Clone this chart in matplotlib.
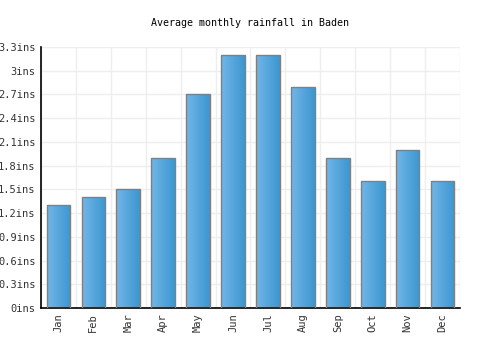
import matplotlib
matplotlib.use("Agg")
import matplotlib.pyplot as plt
import numpy as np
from matplotlib.colors import LinearSegmentedColormap

months = ["Jan", "Feb", "Mar", "Apr", "May", "Jun", "Jul", "Aug", "Sep", "Oct", "Nov", "Dec"]
rainfall = [1.3, 1.4, 1.5, 1.9, 2.7, 3.2, 3.2, 2.8, 1.9, 1.6, 2.0, 1.6]
yticks = [0, 0.3, 0.6, 0.9, 1.2, 1.5, 1.8, 2.1, 2.4, 2.7, 3.0, 3.3]
ylabels = ["0ins", "0.3ins", "0.6ins", "0.9ins", "1.2ins", "1.5ins", "1.8ins",
           "2.1ins", "2.4ins", "2.7ins", "3ins", "3.3ins"]
title = "Average monthly rainfall in Baden"

plt.rcParams['font.family'] = ['DejaVu Sans Mono']
fig = plt.figure(figsize=(5, 3.5), dpi=100)
ax = fig.add_axes([41/500, 1-308/350, 419/500, 261/350])

x = np.arange(len(months))
bars = ax.bar(x, rainfall, width=0.68, color='none', edgecolor='#808080', linewidth=1.0, zorder=3)
cmap = LinearSegmentedColormap.from_list('g', ['#72b6e8', '#3b97d0'])
grad = np.linspace(0, 1, 100).reshape(1, -1)
for b in bars:
    x0, y0 = b.get_x(), b.get_y()
    w, h = b.get_width(), b.get_height()
    im = ax.imshow(grad, cmap=cmap, aspect='auto', extent=(x0, x0 + w, y0, y0 + h), zorder=2)
    im.set_clip_path(b)

ax.set_xlim(-0.5, len(months) - 0.5)
ax.set_ylim(0, 3.3)
ax.set_yticks(yticks)
ax.set_yticklabels(ylabels, fontsize=7.5, color='#333333')
ax.set_xticks(x)
ax.set_xticklabels(months, rotation=90, fontsize=7.5, color='#333333')
ax.set_xticks(np.arange(-0.5, len(months), 1), minor=True)
ax.tick_params(axis='both', which='both', length=0)
ax.tick_params(axis='y', pad=4)
ax.grid(False)
ax.yaxis.grid(True, color='#eeeeee', linewidth=1, zorder=0)
ax.xaxis.grid(True, which='minor', color='#eeeeee', linewidth=1, zorder=0)
ax.set_axisbelow(True)
for s in ['top', 'right']:
    ax.spines[s].set_visible(False)
ax.spines['left'].set_color('black')
ax.spines['bottom'].set_color('black')
ax.spines['left'].set_linewidth(1.2)
ax.spines['bottom'].set_linewidth(1.2)
fig.text(0.5, 1 - 23/350, title, ha='center', va='center', fontsize=7.2, color='black')
fig.savefig('out.png', dpi=100)
